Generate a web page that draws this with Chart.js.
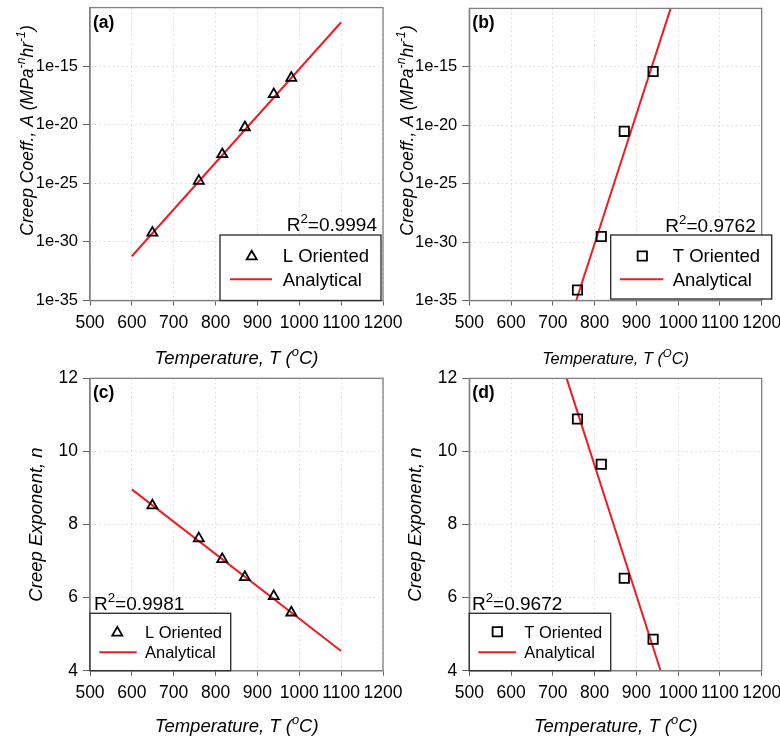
<!DOCTYPE html>
<html><head><meta charset="utf-8">
<script src="https://cdn.jsdelivr.net/npm/chart.js@4.4.0/dist/chart.umd.min.js"></script>
<style>
html,body{margin:0;padding:0;background:#fff;}
#wrap{position:relative;width:780px;height:740px;overflow:hidden;background:#fff;}
.pane{position:absolute;left:0;width:780px;height:370px;}
</style></head><body>
<div id="wrap">
<div class="pane" style="top:0"><canvas id="ca"></canvas></div>
<div class="pane" style="top:0"><canvas id="cb"></canvas></div>
<div class="pane" style="top:370px"><canvas id="cc"></canvas></div>
<div class="pane" style="top:370px"><canvas id="cd"></canvas></div>
</div>
<script>
// ---------------- data ----------------
const temperatureTicks = [500, 600, 700, 800, 900, 1000, 1100, 1200];
const coeffTicks = [1e-35, 1e-30, 1e-25, 1e-20, 1e-15];
const exponentTicks = [4, 6, 8, 10, 12];

const tempL = [649, 760, 816, 870, 939, 981];
const coeffL = [6e-30, 1.6e-25, 3e-23, 6e-21, 4e-18, 1e-16];
const exponentL = [8.52, 7.62, 7.05, 6.56, 6.04, 5.59];

const tempT = [759, 816, 871, 940];
const coeffT = [8e-35, 3e-30, 3e-21, 4e-16];
const exponentT = [10.89, 9.65, 6.53, 4.86];

const fitCoeffLTemp = [600, 1100];
const fitCoeffL = [6e-32, 5.6e-12];
const fitCoeffTTemp = [756, 982];
const fitCoeffT = [1e-35, 1e-10];
const fitExpLTemp = [600, 1100];
const fitExpL = [8.96, 4.54];
const fitExpTTemp = [733, 958];
const fitExpT = [12, 4];

const r2Values = ['0.9994', '0.9762', '0.9981', '0.9672'];
const panelLabels = ['(a)', '(b)', '(c)', '(d)'];
const seriesL = 'L Oriented', seriesT = 'T Oriented', seriesFit = 'Analytical';

// ---------------- helpers ----------------
const FAM = "'Liberation Sans', Arial, Helvetica, sans-serif";
Chart.defaults.font.family = FAM;
Chart.defaults.color = '#000';
const SUP = 0.7;

function pts(xs, ys) { return xs.map((x, i) => ({x: x, y: ys[i]})); }
function fontStr(size, style) { return (style || '') + ' ' + size + 'px ' + FAM; }
function richWidth(ctx, segs, size, style) {
  let w = 0;
  segs.forEach(s => { ctx.font = fontStr(s.sup ? size * SUP : size, style); w += ctx.measureText(s.t).width; });
  return w;
}
function drawRich(ctx, segs, x, y, size, style, align) {
  const w = richWidth(ctx, segs, size, style);
  let cx = align === 'center' ? x - w / 2 : (align === 'right' ? x - w : x);
  ctx.textAlign = 'left'; ctx.textBaseline = 'alphabetic'; ctx.fillStyle = '#000';
  segs.forEach(s => {
    const sz = s.sup ? size * SUP : size;
    ctx.font = fontStr(sz, style);
    ctx.fillText(s.t, cx, s.sup ? y - size * 0.42 : y);
    cx += ctx.measureText(s.t).width;
  });
}
function drawMarker(ctx, style, x, y, r) {
  ctx.save();
  ctx.strokeStyle = '#000'; ctx.lineWidth = 1.8;
  ctx.beginPath();
  if (style === 'triangle') {
    let a = 0;
    ctx.moveTo(x + Math.sin(a) * r, y - Math.cos(a) * r);
    a += 2 * Math.PI / 3; ctx.lineTo(x + Math.sin(a) * r, y - Math.cos(a) * r);
    a += 2 * Math.PI / 3; ctx.lineTo(x + Math.sin(a) * r, y - Math.cos(a) * r);
    ctx.closePath();
  } else {
    const s = Math.SQRT1_2 * r;
    ctx.rect(x - s, y - s, 2 * s, 2 * s);
  }
  ctx.stroke();
  ctx.restore();
}

const decor = {
  id: 'decor',
  afterDraw(chart, args, o) {
    const ctx = chart.ctx, ca = chart.chartArea;
    ctx.save();
    // frame
    ctx.strokeStyle = '#808080'; ctx.lineWidth = 1.3;
    ctx.strokeRect(ca.left, ca.top, ca.right - ca.left, ca.bottom - ca.top);
    // panel label
    ctx.font = fontStr(17.5, 'bold'); ctx.fillStyle = '#000';
    ctx.textAlign = 'left'; ctx.textBaseline = 'alphabetic';
    ctx.fillText(o.label, ca.left + 3, o.labelY);
    // R^2
    drawRich(ctx, [{t: 'R'}, {t: '2', sup: true}, {t: '=' + o.r2}], o.r2X, o.r2Y, 19, '', o.r2Align);
    // legend box
    const b = o.box;
    ctx.fillStyle = '#fff'; ctx.fillRect(b[0], b[1], b[2] - b[0], b[3] - b[1]);
    ctx.strokeStyle = '#333'; ctx.lineWidth = 1.4;
    ctx.strokeRect(b[0], b[1], b[2] - b[0], b[3] - b[1]);
    drawMarker(ctx, o.markerStyle, o.markerX, o.markerY, o.markerR);
    ctx.strokeStyle = '#ee1d23'; ctx.lineWidth = 2;
    ctx.beginPath(); ctx.moveTo(o.lineX[0], o.lineY); ctx.lineTo(o.lineX[1], o.lineY); ctx.stroke();
    ctx.font = fontStr(o.legFont, ''); ctx.fillStyle = '#000';
    ctx.textAlign = 'left'; ctx.textBaseline = 'alphabetic';
    ctx.fillText(o.name1, o.textX, o.text1Y);
    ctx.fillText(o.name2, o.textX, o.text2Y);
    // y title
    ctx.save();
    ctx.translate(o.yTitleX, o.yTitleY);
    ctx.rotate(-Math.PI / 2);
    drawRich(ctx, o.yTitle, 0, 0, o.yTitleSize, 'italic', 'center');
    ctx.restore();
    // x title
    drawRich(ctx, o.xTitle, o.xTitleX, o.xTitleY, o.xTitleSize, 'italic', 'center');
    ctx.restore();
  }
};

const GRID = {color: '#d9d9d9', tickColor: '#606060', lineWidth: 1, tickBorderDash: []};
const BORDER = {color: '#808080', width: 1.3, dash: [1.5, 3]};

function makePanel(id, g, datasets, yScale, dec) {
  const xScale = {
    type: 'linear', min: 500, max: 1200,
    afterBuildTicks: s => { s.ticks = temperatureTicks.map(v => ({value: v})); },
    afterFit: s => { s.height = 370 - g.bottom; s.paddingLeft = 0; s.paddingRight = 0; },
    ticks: {font: {size: 17.5}, padding: 7, autoSkip: false, maxRotation: 0, color: '#000',
      callback: v => String(v)},
    grid: Object.assign({tickLength: 5}, GRID),
    border: BORDER
  };
  yScale.afterFit = s => { s.width = g.left - g.padLeft; s.paddingTop = 0; s.paddingBottom = 0; };
  return new Chart(document.getElementById(id), {
    type: 'scatter',
    data: {datasets: datasets},
    options: {
      responsive: true, maintainAspectRatio: false, animation: false, events: [],
      layout: {padding: {left: g.padLeft, right: 780 - g.right, top: g.top, bottom: 0}},
      scales: {x: xScale, y: yScale},
      plugins: {legend: {display: false}, tooltip: {enabled: false}, decor: dec}
    },
    plugins: [decor]
  });
}

function logY() {
  return {
    type: 'logarithmic', min: 1e-35, max: 1e-10,
    afterBuildTicks: s => { s.ticks = coeffTicks.map(v => ({value: v})); },
    ticks: {font: {size: 16.5}, padding: 5, autoSkip: false, color: '#000',
      callback: v => '1e' + Math.round(Math.log10(v))},
    grid: Object.assign({tickLength: 7}, GRID),
    border: BORDER
  };
}
function linY() {
  return {
    type: 'linear', min: 4, max: 12,
    afterBuildTicks: s => { s.ticks = exponentTicks.map(v => ({value: v})); },
    ticks: {font: {size: 17.5}, padding: 5, autoSkip: false, color: '#000', callback: v => String(v)},
    grid: Object.assign({tickLength: 7}, GRID),
    border: BORDER
  };
}
function markerSet(label, style, r, data) {
  return {label: label, data: data, pointStyle: style, pointRadius: r, pointBorderColor: '#000',
    pointBackgroundColor: 'rgba(0,0,0,0)', pointBorderWidth: 1.8, showLine: false, order: 0};
}
function fitSet(data) {
  return {label: seriesFit, data: data, showLine: true, borderColor: '#ee1d23', borderWidth: 2,
    pointRadius: 0, fill: false, order: 1};
}

const yCoeffTitle = [{t: 'Creep Coeff., A (MPa'}, {t: '-n', sup: true}, {t: 'hr'}, {t: '-1', sup: true}, {t: ')'}];
const yExpTitle = [{t: 'Creep Exponent, n'}];
const xTitle = [{t: 'Temperature, T ('}, {t: 'o', sup: true}, {t: 'C)'}];
const xTitleB = [{t: 'Temperature, T ('}, {t: 'O', sup: true}, {t: 'C)'}];

// (a)
makePanel('ca', {padLeft: 0, left: 90, right: 383, top: 7.5, bottom: 300.5},
  [markerSet(seriesL, 'triangle', 5.8, pts(tempL, coeffL)), fitSet(pts(fitCoeffLTemp, fitCoeffL))],
  logY(),
  {label: panelLabels[0], labelY: 28, r2: r2Values[0], r2X: 377, r2Y: 230.5, r2Align: 'right',
   box: [220, 235, 381, 300.5], markerStyle: 'triangle', markerX: 251.7, markerY: 256.5, markerR: 5.8,
   lineX: [230, 272], lineY: 279.3, legFont: 18.5, name1: seriesL, name2: seriesFit,
   textX: 282.7, text1Y: 262, text2Y: 286,
   yTitle: yCoeffTitle, yTitleX: 32.5, yTitleY: 130.5, yTitleSize: 17.5,
   xTitle: xTitle, xTitleX: 236.5, xTitleY: 363.5, xTitleSize: 18.5});

// (b)
makePanel('cb', {padLeft: 390, left: 469.3, right: 761.7, top: 7.5, bottom: 300.5},
  [markerSet(seriesT, 'rect', 6.6, pts(tempT, coeffT)), fitSet(pts(fitCoeffTTemp, fitCoeffT))],
  logY(),
  {label: panelLabels[1], labelY: 28, r2: r2Values[1], r2X: 755.7, r2Y: 231.5, r2Align: 'right',
   box: [610.7, 235, 771.7, 299], markerStyle: 'rect', markerX: 642.3, markerY: 256, markerR: 6.6,
   lineX: [620, 663.3], lineY: 279.3, legFont: 18.5, name1: seriesT, name2: seriesFit,
   textX: 672.7, text1Y: 262, text2Y: 286,
   yTitle: yCoeffTitle, yTitleX: 412.5, yTitleY: 130.5, yTitleSize: 17.5,
   xTitle: xTitleB, xTitleX: 615.5, xTitleY: 363.8, xTitleSize: 16.3});

// (c)
makePanel('cc', {padLeft: 0, left: 90, right: 383, top: 8.3, bottom: 300.7},
  [markerSet(seriesL, 'triangle', 5.8, pts(tempL, exponentL)), fitSet(pts(fitExpLTemp, fitExpL))],
  linY(),
  {label: panelLabels[2], labelY: 27.5, r2: r2Values[2], r2X: 94, r2Y: 240, r2Align: 'left',
   box: [90, 243.3, 230.7, 300.7], markerStyle: 'triangle', markerX: 117.3, markerY: 262.7, markerR: 5.8,
   lineX: [99.3, 136.7], lineY: 282.3, legFont: 16.5, name1: seriesL, name2: seriesFit,
   textX: 145, text1Y: 268.3, text2Y: 288.3,
   yTitle: yExpTitle, yTitleX: 42, yTitleY: 154.5, yTitleSize: 18.5,
   xTitle: xTitle, xTitleX: 236.7, xTitleY: 361.5, xTitleSize: 18.5});

// (d)
makePanel('cd', {padLeft: 390, left: 469.3, right: 761.7, top: 8.3, bottom: 300.7},
  [markerSet(seriesT, 'rect', 6.6, pts(tempT, exponentT)), fitSet(pts(fitExpTTemp, fitExpT))],
  linY(),
  {label: panelLabels[3], labelY: 27.5, r2: r2Values[3], r2X: 472, r2Y: 240, r2Align: 'left',
   box: [469.3, 243.3, 610.7, 300.7], markerStyle: 'rect', markerX: 497.3, markerY: 261.7, markerR: 6.6,
   lineX: [478.3, 516], lineY: 282.3, legFont: 16.5, name1: seriesT, name2: seriesFit,
   textX: 524.3, text1Y: 268.3, text2Y: 288.3,
   yTitle: yExpTitle, yTitleX: 421.3, yTitleY: 154.5, yTitleSize: 18.5,
   xTitle: xTitle, xTitleX: 615.8, xTitleY: 361.5, xTitleSize: 18.5});
</script>
</body></html>
